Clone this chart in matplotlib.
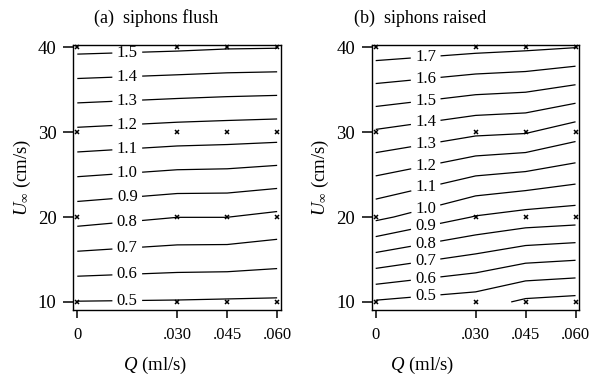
import numpy as np
import matplotlib
matplotlib.use('Agg')
import matplotlib.pyplot as plt

plt.rcParams['font.family'] = 'Liberation Serif'
plt.rcParams['mathtext.fontset'] = 'custom'
plt.rcParams['mathtext.rm'] = 'Liberation Serif'
plt.rcParams['mathtext.it'] = 'Liberation Serif:italic'

# measurement grid
Q = [0.0, 0.030, 0.045, 0.060]
U = [10, 20, 30, 40]
q_ticklabels = ['0', '.030', '.045', '.060']
u_ticks = [10, 20, 30, 40]

# contoured quantity, rows are U = 10, 20, 30, 40 and columns follow Q
flush = [[0.497, 0.493, 0.489, 0.486],
         [0.837, 0.801, 0.801, 0.776],
         [1.180, 1.158, 1.151, 1.144],
         [1.528, 1.516, 1.507, 1.504]]
raised = [[0.489, 0.447, 0.381, 0.364],
          [1.023, 0.894, 0.861, 0.845],
          [1.388, 1.319, 1.307, 1.244],
          [1.758, 1.729, 1.717, 1.702]]

flush_levels = [0.5, 0.6, 0.7, 0.8, 0.9, 1.0, 1.1, 1.2, 1.3, 1.4, 1.5]
raised_levels = [0.4, 0.5, 0.6, 0.7, 0.8, 0.9, 1.0, 1.1, 1.2, 1.3, 1.4, 1.5, 1.6, 1.7]
flush_labelled = flush_levels
raised_labelled = raised_levels[1:]

titles = ['(a)  siphons flush', '(b)  siphons raised']

label_q = 0.015  # where the inline labels sit

fig = plt.figure(figsize=(5.91, 3.76), dpi=100)
W, H = 591, 376
panels = [
    (flush, flush_levels, flush_labelled, 73.3, 0.399, 0.392),
    (raised, raised_levels, raised_labelled, 371.7, 0.235, 0.245),
]

for i, (Z, levels, lab_levels, left_px, title_x, xlab_x) in enumerate(panels):
    ax = fig.add_axes([left_px / W, (H - 310) / H, 207.5 / W, 265 / H])
    Z = np.array(Z)
    cs = ax.contour(Q, U, Z, levels=levels, colors='k', linewidths=0.9)

    # label positions on each line at Q = label_q
    zcol = [np.interp(label_q, Q, row) for row in Z]
    pos = [(label_q, np.interp(lev, zcol, U)) for lev in lab_levels]
    ax.clabel(cs, manual=pos, fmt='%.1f', fontsize=12,
              inline=True, inline_spacing=5)
    for t in cs.labelTexts:
        t.set_rotation(0)

    qq, uu = np.meshgrid(Q, U)
    ax.plot(qq.ravel(), uu.ravel(), 'x', color='k', ms=3.5, mew=1.1, clip_on=False)

    ax.set_xlim(-0.0012, 0.0611)
    ax.set_ylim(9.05, 40.27)
    ax.set_xticks(Q)
    ax.set_xticklabels(q_ticklabels)
    ax.set_yticks(u_ticks)
    ax.tick_params(axis='x', length=6, width=1.1, pad=6, labelsize=12)
    ax.tick_params(axis='y', length=7, width=1.1, pad=5, labelsize=13.5)
    for s in ax.spines.values():
        s.set_linewidth(1.0)

    ax.set_xlabel('$Q$ (ml/s)', fontsize=13.5)
    ax.xaxis.label.set_va('center')
    ax.xaxis.set_label_coords(xlab_x, -0.2075)
    ax.set_ylabel(r'$U_\infty$ (cm/s)', fontsize=13.5)
    ax.yaxis.label.set_va('center')
    ax.yaxis.set_label_coords(-0.245, 0.5)

    ax.text(title_x, 1.102, titles[i], transform=ax.transAxes,
            ha='center', va='center', fontsize=13)

fig.savefig('out.png', dpi=100)
